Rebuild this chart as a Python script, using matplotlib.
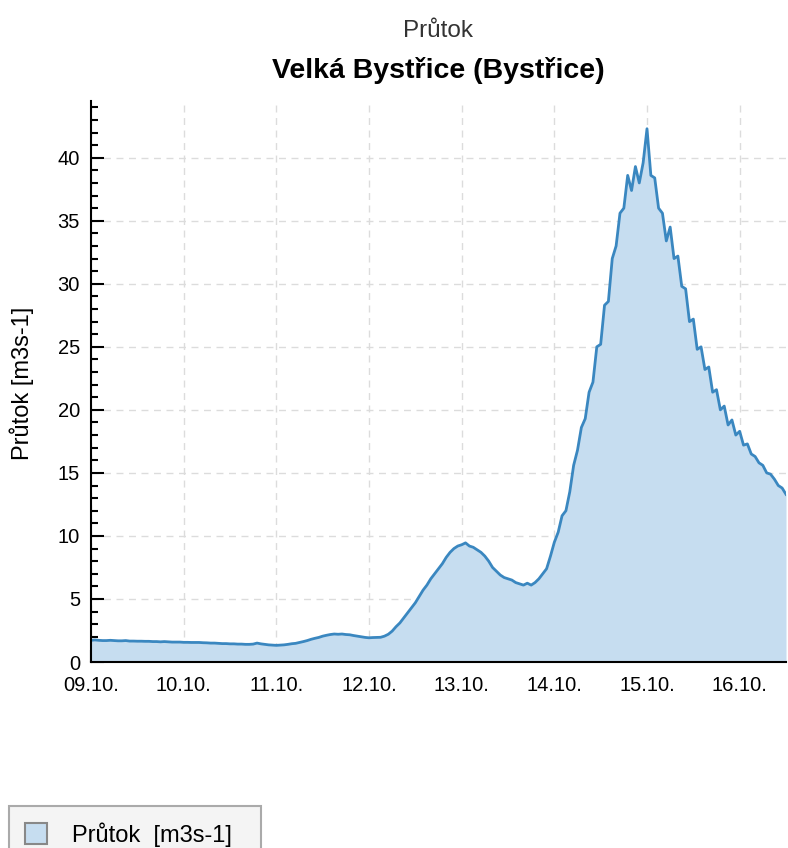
import matplotlib
matplotlib.use("Agg")
import matplotlib.pyplot as plt
from matplotlib.patches import Patch
from matplotlib.ticker import MultipleLocator

plt.rcParams['font.family'] = ['Liberation Sans', 'DejaVu Sans']

# hourly flow [m3s-1], starting 09.10. 00:00
prutok = [
  # 09.10.
  1.72, 1.75, 1.72, 1.70, 1.70, 1.72, 1.70, 1.68, 1.68, 1.70, 1.66, 1.66,
  1.65, 1.65, 1.64, 1.64, 1.62, 1.62, 1.60, 1.62, 1.60, 1.58, 1.58, 1.58,
  # 10.10.
  1.56, 1.56, 1.55, 1.55, 1.55, 1.53, 1.52, 1.50, 1.50, 1.48, 1.46, 1.46,
  1.44, 1.44, 1.42, 1.42, 1.40, 1.40, 1.42, 1.50, 1.44, 1.40, 1.36, 1.34,
  # 11.10.
  1.32, 1.34, 1.36, 1.40, 1.45, 1.48, 1.55, 1.62, 1.70, 1.80, 1.88, 1.95,
  2.05, 2.12, 2.18, 2.22, 2.20, 2.22, 2.18, 2.16, 2.10, 2.05, 2.00, 1.95,
  # 12.10.
  1.92, 1.94, 1.95, 1.96, 2.05, 2.20, 2.45, 2.80, 3.10, 3.50, 3.90, 4.30,
  4.70, 5.20, 5.70, 6.10, 6.60, 7.00, 7.40, 7.80, 8.30, 8.70, 9.00, 9.20,
  # 13.10.
  9.30, 9.45, 9.20, 9.10, 8.90, 8.70, 8.40, 8.00, 7.50, 7.20, 6.90, 6.70,
  6.60, 6.50, 6.30, 6.20, 6.10, 6.25, 6.10, 6.30, 6.60, 7.00, 7.40, 8.40,
  # 14.10.
  9.5, 10.3, 11.6, 12.0, 13.5, 15.6, 16.8, 18.6, 19.3, 21.4, 22.2, 25.0,
  25.2, 28.3, 28.6, 32.0, 33.0, 35.6, 36.0, 38.6, 37.4, 39.3, 38.0, 39.6,
  # 15.10.
  42.3, 38.6, 38.4, 36.0, 35.6, 33.4, 34.5, 32.0, 32.2, 29.8, 29.6, 27.0,
  27.2, 24.8, 25.0, 23.2, 23.4, 21.4, 21.6, 20.0, 20.3, 18.8, 19.2, 18.0,
  # 16.10.
  18.3, 17.2, 17.3, 16.5, 16.3, 15.8, 15.6, 15.0, 14.9, 14.5, 14.0, 13.8,
  13.3,
]
dny = [h / 24 for h in range(len(prutok))]
den_popisky = ['09.10.', '10.10.', '11.10.', '12.10.', '13.10.', '14.10.', '15.10.', '16.10.']

line_col = '#3a87c0'
fill_col = '#c6ddf0'

fig = plt.figure(figsize=(7.88, 8.48), dpi=100)
ax = fig.add_axes([91/788, 1-662/848, (786-91)/788, (662-101)/848])

ax.fill_between(dny, prutok, 0, color=fill_col, lw=0)
ax.plot(dny, prutok, color=line_col, lw=2)

ax.set_xlim(0, 7.5)
ax.set_ylim(0, 44.5)
ax.set_xticks(range(len(den_popisky)))
ax.set_xticklabels(den_popisky)
ax.yaxis.set_major_locator(MultipleLocator(5))
ax.yaxis.set_minor_locator(MultipleLocator(1))

ax.grid(True, which='major', ls=(0, (5, 4)), color='#dcdcdc', lw=1)
ax.set_axisbelow(True)
for s in ['top', 'right']:
  ax.spines[s].set_visible(False)
for s in ['left', 'bottom']:
  ax.spines[s].set_linewidth(1.5)
ax.tick_params(axis='both', which='major', direction='in', length=9, width=1.5, labelsize=14.5)
ax.tick_params(axis='x', which='major', pad=10)
ax.tick_params(axis='y', which='major', pad=8)
ax.tick_params(axis='y', which='minor', direction='in', length=5, width=1.5)

fig.text(22/788, 1-383/848, 'Průtok [m3s-1]', rotation=90, ha='center', va='center', fontsize=17)

cx = (91 + 786) / 2 / 788
fig.text(cx, 1-31/848, 'Průtok', ha='center', va='center', fontsize=17.5, color='#333333')
fig.text(cx, 1-71/848, 'Velká Bystřice (Bystřice)', ha='center', va='center', fontsize=20.5, fontweight='bold')

h = Patch(facecolor=fill_col, edgecolor='#888888', lw=1.5)
leg = fig.legend([h], ['Průtok  [m3s-1]  '], loc='upper left', bbox_to_anchor=(9/788, 1-806/848),
                 fancybox=False, frameon=True, fontsize=17, handlelength=0.93, handleheight=0.93,
                 handletextpad=1.06, borderpad=0.68, borderaxespad=0)
leg.get_frame().set_facecolor('#f4f4f4')
leg.get_frame().set_edgecolor('#aaaaaa')
leg.get_frame().set_linewidth(1.5)
leg.get_frame().set_alpha(1)

fig.savefig('out.png', dpi=100)
